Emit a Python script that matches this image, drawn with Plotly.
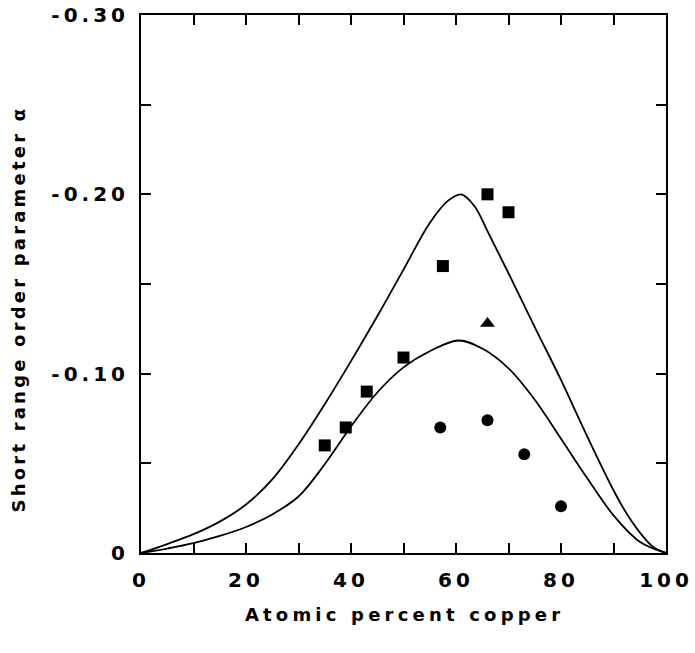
import plotly.graph_objects as go

# Theoretical curves (atomic % Cu, alpha)
upper_x = [0, 5, 10, 15, 20, 25, 30, 35, 40, 45, 50, 55, 58.5, 61, 63.5, 66, 70, 75, 80, 85, 90, 92.5, 95, 97.5, 100]
upper_y = [0, -0.0050, -0.0105, -0.0175, -0.0270, -0.0410, -0.0605, -0.0830, -0.1070, -0.1320, -0.1580,
           -0.1840, -0.1965, -0.2000, -0.1935, -0.1795, -0.1560, -0.1260, -0.0965, -0.0650, -0.0350,
           -0.0220, -0.0115, -0.0035, 0]

lower_x = [0, 5, 10, 15, 20, 25, 30, 35, 40, 45, 50, 55, 60.5, 65, 70, 75, 80, 85, 90, 95, 100]
lower_y = [0, -0.0025, -0.0055, -0.0095, -0.0145, -0.0215, -0.0315, -0.0495, -0.0705, -0.0895,
           -0.1035, -0.1125, -0.1185, -0.1140, -0.1030, -0.0855, -0.0637, -0.0417, -0.0210, -0.0063, 0]

# Experimental points
square_x = [35, 39, 43, 50, 57.5, 66, 70]
square_y = [-0.060, -0.070, -0.090, -0.109, -0.160, -0.200, -0.190]

triangle_x = [66]
triangle_y = [-0.128]

circle_x = [57, 66, 73, 80]
circle_y = [-0.070, -0.074, -0.055, -0.026]

x_tickvals = [0, 10, 20, 30, 40, 50, 60, 70, 80, 90, 100]
x_ticktext = ["0", "", "20", "", "40", "", "60", "", "80", "", "100"]
y_tickvals = [0, -0.05, -0.10, -0.15, -0.20, -0.25, -0.30]
y_ticktext = ["0", "", "-0.10", "", "-0.20", "", "-0.30"]

x_title = "Atomic percent copper"
y_title = "Short range order parameter α"

FONT = "DejaVu Sans"

fig = go.Figure()
for cx, cy in [(upper_x, upper_y), (lower_x, lower_y)]:
    fig.add_trace(go.Scatter(x=cx, y=cy, mode="lines",
                             line=dict(color="black", width=1.8, shape="spline", smoothing=1.0),
                             showlegend=False))
fig.add_trace(go.Scatter(x=square_x, y=square_y, mode="markers",
                         marker=dict(symbol="square", size=12, color="black"), showlegend=False))
fig.add_trace(go.Scatter(x=triangle_x, y=triangle_y, mode="markers",
                         marker=dict(symbol="triangle-up", size=13, color="black"), showlegend=False))
fig.add_trace(go.Scatter(x=circle_x, y=circle_y, mode="markers",
                         marker=dict(symbol="circle", size=12, color="black"), showlegend=False))

fig.update_layout(
    width=695, height=653,
    margin=dict(l=141, r=29, t=15, b=100),
    paper_bgcolor="white", plot_bgcolor="white",
    font=dict(family=FONT, color="black"),
    xaxis=dict(
        range=[0, 100], tickvals=x_tickvals, ticktext=x_ticktext,
        ticks="inside", ticklen=10, tickwidth=1.5, tickcolor="black",
        showline=True, linecolor="black", linewidth=2, mirror="ticks",
        showgrid=False, zeroline=False, automargin=False,
        tickfont=dict(size=20, family=FONT, weight="bold"),
        ticklabelstandoff=8,
    ),
    yaxis=dict(
        range=[0, -0.30], tickvals=y_tickvals, ticktext=y_ticktext,
        ticks="inside", ticklen=10, tickwidth=1.5, tickcolor="black",
        showline=True, linecolor="black", linewidth=2, mirror="ticks",
        showgrid=False, zeroline=False, automargin=False,
        tickfont=dict(size=20, family=FONT, weight="bold"),
        ticklabelstandoff=6,
    ),
    annotations=[
        dict(text=x_title, xref="paper", yref="paper", x=0.502, y=-0.1152,
             xanchor="center", yanchor="middle", showarrow=False,
             font=dict(size=18, family=FONT, weight="bold", color="black")),
        dict(text=y_title, xref="paper", yref="paper", x=-0.2343, y=0.4535,
             xanchor="center", yanchor="middle", showarrow=False, textangle=-90,
             font=dict(size=18, family=FONT, weight="bold", color="black")),
    ],
)

post = """
var gd = document.getElementById('{plot_id}');
function spaceText(){
  gd.querySelectorAll('.xtick text, .ytick text').forEach(function(t){ t.style.letterSpacing = '4px'; });
  gd.querySelectorAll('.annotation[data-index="0"] text').forEach(function(t){ t.style.letterSpacing = '4.2px'; });
  gd.querySelectorAll('.annotation[data-index="1"] text').forEach(function(t){ t.style.letterSpacing = '3.2px'; });
}
spaceText();
gd.on('plotly_afterplot', spaceText);
"""

fig.write_html("out.html", post_script=post)
